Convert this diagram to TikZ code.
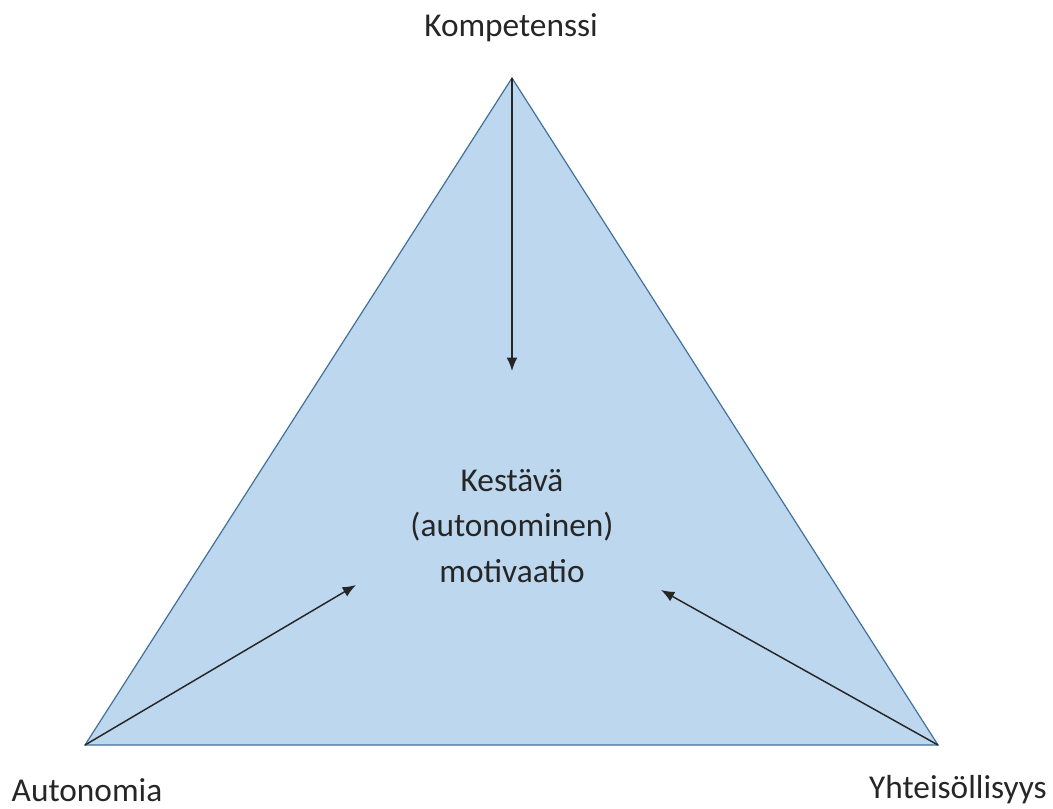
\documentclass[tikz,border=0pt]{standalone}
\usepackage{fontspec}
\setmainfont{Carlito}
\usetikzlibrary{arrows.meta}

\definecolor{trifill}{HTML}{BDD7EE}
\definecolor{triedge}{HTML}{41719C}

\tikzset{
  label/.style={font=\fontsize{25}{34}\selectfont, text=black!85},
  need/.style={draw=black!85, line width=1.1pt, -{Latex[length=10pt,width=8pt]}}
}

\begin{document}
\begin{tikzpicture}[x=0.75pt,y=-0.75pt]
    \useasboundingbox (0,0) rectangle (1053,808);

    % Corners
      \coordinate (top) at (512,78);
      \coordinate (left) at (85,745);
      \coordinate (right) at (938,745);

      % Triangle
      \filldraw[fill=trifill, draw=triedge, line width=0.9pt] (top) -- (left) -- (right) -- cycle;

      % Labels
      \node[label] (komp) at (511,28) {Kompetenssi};
      \node[label] (auto) at (87,790) {Autonomia};
      \node[label] (yht) at (958,790) {Yhteisöllisyys};
      \node[label, align=center] (motiv) at (512,526) {Kestävä\\(autonominen)\\motivaatio};

      % Arrow ends
      \coordinate (topend) at (512,371);
      \coordinate (leftend) at (356,585);
      \coordinate (rightend) at (661,590);

      % Arrows
      \draw[need] (top) -- (topend);
      \draw[need] (left) -- (leftend);
      \draw[need] (right) -- (rightend);
  \end{tikzpicture}
\end{document}
